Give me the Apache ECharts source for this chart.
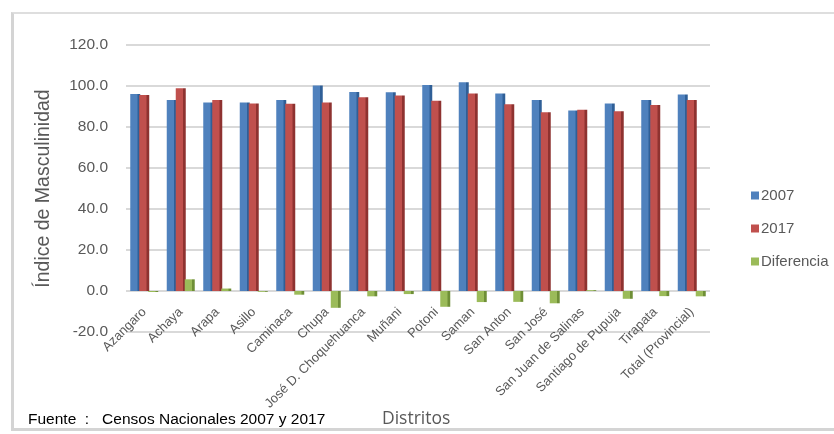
<!DOCTYPE html>
<html>
<head>
<meta charset="utf-8">
<script src="https://cdn.jsdelivr.net/npm/echarts@6/dist/echarts.min.js"></script>
<style>
  html, body { margin: 0; padding: 0; background: #fff; }
  #frame {
    position: absolute; left: 11px; top: 12px; width: 840px; height: 419px;
    border-left: 3px solid #d4d4d4; border-top: 2px solid #dedede; border-bottom: 3px solid #d4d4d4;
    box-sizing: border-box;
  }
  #chart { position: absolute; left: 0; top: 0; width: 834px; height: 434px; }
</style>
</head>
<body>
<div id="frame"></div>
<div id="chart"></div>
<script>
// distritos
const categories = ['Azangaro', 'Achaya', 'Arapa', 'Asillo', 'Caminaca', 'Chupa',
  'José D. Choquehuanca', 'Muñani', 'Potoni', 'Saman', 'San Anton', 'San José',
  'San Juan de Salinas', 'Santiago de Pupuja', 'Tirapata', 'Total (Provincial)']

const values2007 = [96.1, 93.2, 92.0, 91.9, 93.2, 100.2, 97.1, 96.9, 100.5, 101.8, 96.4, 93.2, 88.0, 91.5, 93.2, 95.8]
const values2017 = [95.6, 98.9, 93.2, 91.5, 91.4, 92.0, 94.5, 95.4, 92.8, 96.4, 91.1, 87.2, 88.4, 87.7, 90.7, 93.2]
const diferencia = [-0.5, 5.7, 1.2, -0.4, -1.8, -8.2, -2.6, -1.5, -7.7, -5.4, -5.3, -6.0, 0.4, -3.8, -2.5, -2.6]

const yTicks = [-20, 0, 20, 40, 60, 80, 100, 120]

// barras con un poco de relieve (lado derecho mas oscuro)
const shade = (light, dark) => ({
  type: 'linear', x: 0, y: 0, x2: 1, y2: 0,
  colorStops: [
    { offset: 0, color: light },
    { offset: 0.72, color: light },
    { offset: 0.73, color: dark },
    { offset: 1, color: dark }
  ]
})

const chart = echarts.init(document.getElementById('chart'))
const labelColor = '#595959'

const mkSeries = (name, data, light, dark) => ({
  name: name,
  type: 'bar',
  data: data,
  barWidth: 10,
  barGap: '-10%',
  itemStyle: { color: shade(light, dark) },
  animation: false
})

chart.setOption({
  textStyle: { fontFamily: 'Liberation Sans, Arial, sans-serif' },
  grid: { left: 126, right: 124, top: 45, bottom: 102, outerBoundsMode: 'none' },
  legend: {
    orient: 'vertical',
    left: 746,
    top: 183,
    itemWidth: 8,
    itemHeight: 8,
    itemGap: 18,
    icon: 'rect',
    textStyle: { color: labelColor, fontSize: 15, padding: [0, 0, 0, -3] },
    data: ['2007', '2017', 'Diferencia'].map(n => ({ name: n, itemStyle: { color: { '2007': '#4f81bd', '2017': '#c0504d', 'Diferencia': '#9bbb59' }[n] } }))
  },
  xAxis: {
    type: 'category',
    data: categories,
    axisLine: { show: false },
    axisTick: { show: false },
    axisLabel: {
      rotate: 45,
      interval: 0,
      margin: -22,
      color: labelColor,
      fontSize: 13
    }
  },
  yAxis: {
    type: 'value',
    min: yTicks[0],
    max: yTicks[yTicks.length - 1],
    interval: 20,
    name: 'Índice de Masculinidad',
    nameLocation: 'middle',
    nameGap: 72,
    nameTextStyle: { color: labelColor, fontSize: 19.5 },
    axisLine: { show: false },
    axisTick: { show: false },
    axisLabel: {
      color: labelColor,
      fontSize: 15.5,
      margin: 18,
      formatter: v => v.toFixed(1)
    },
    splitLine: { lineStyle: { color: '#d9d9d9', width: 2 } }
  },
  graphic: [
    {
      type: 'text', left: 28, top: 412,
      style: { text: 'Fuente  :   Censos Nacionales 2007 y 2017', fill: '#000', font: '15.5px Liberation Sans, Arial' }
    },
    {
      type: 'text', left: 382, top: 410,
      style: { text: 'Distritos', fill: '#595959', font: '17.5px Open Sans, sans-serif' }
    }
  ],
  series: [
    mkSeries('2007', values2007, '#4f81bd', '#2f5f97'),
    mkSeries('2017', values2017, '#c0504d', '#8e3230'),
    mkSeries('Diferencia', diferencia, '#9bbb59', '#6f8f37')
  ]
})
</script>
</body>
</html>
